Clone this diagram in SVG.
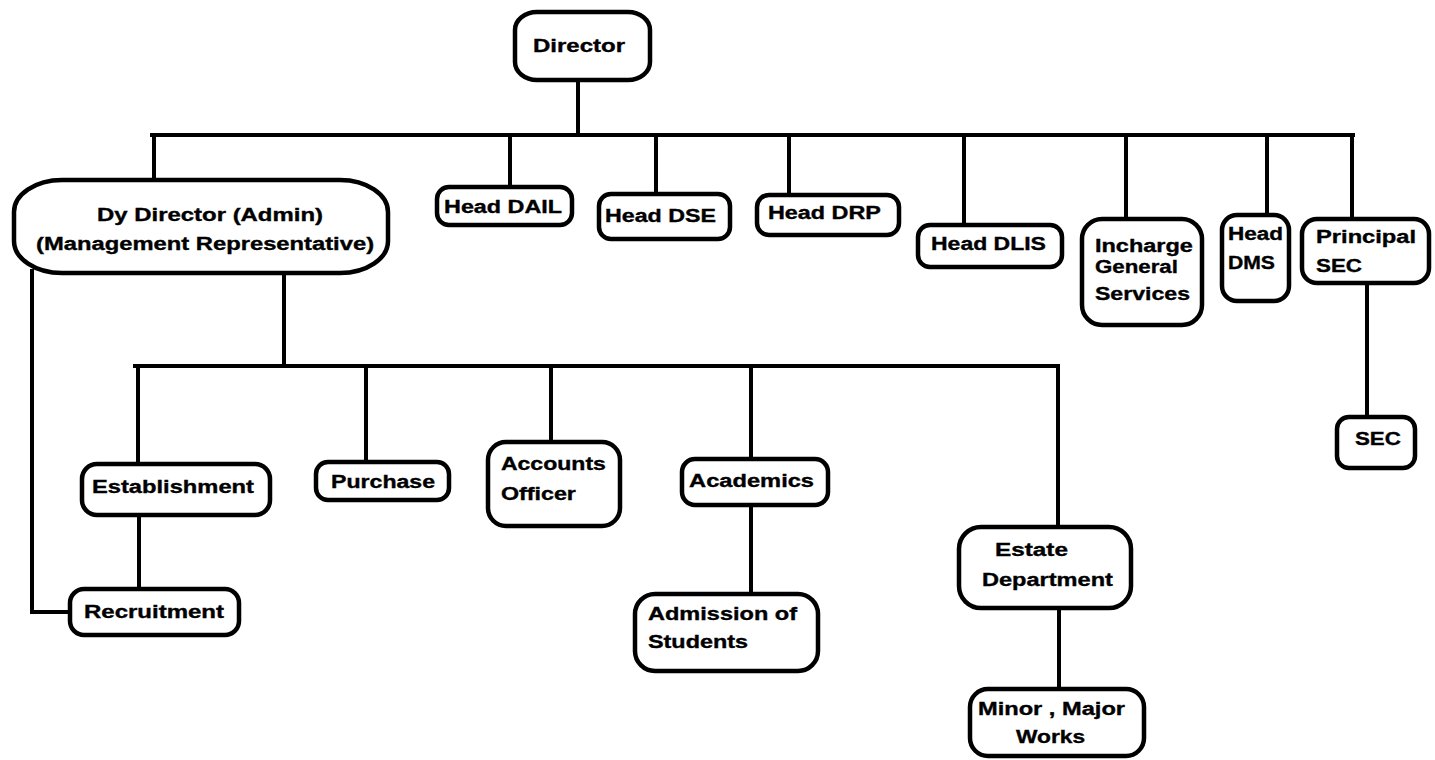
<svg xmlns="http://www.w3.org/2000/svg" width="1435" height="760" viewBox="0 0 1435 760">
<style>
.bx{fill:#fff;stroke:#000;stroke-width:4.5}
.ln{fill:none;stroke:#000;stroke-width:4;stroke-linecap:square}
text{font-family:"Liberation Sans",Arial,sans-serif;font-weight:bold;font-size:18px;fill:#000;stroke:#000;stroke-width:0.35}
</style>
<rect width="1435" height="760" fill="#fff"/>
<g id="connectors">
<path class="ln" d="M578 82V135M152 135H1353"/>
<path class="ln" d="M154 135V180M510 135V187M656 135V194M789 135V195M964 135V225M1126 135V219M1267 135V215M1352 135V219"/>
<path class="ln" d="M1367 283V417"/>
<path class="ln" d="M32 271V612H70"/>
<path class="ln" d="M284 273V366M135 366H1058"/>
<path class="ln" d="M138 366V464M366 366V462M551 366V442M751 366V459M1058 366V527"/>
<path class="ln" d="M139 515V589M751 505V594M1059 608V689"/>
</g>
<g id="director"><rect class="bx" x="515" y="12" width="135" height="68" rx="22" ry="18"/><text transform="scale(1.32 1)" x="403.8" y="52" font-size="19" textLength="69.7" lengthAdjust="spacingAndGlyphs">Director</text></g>
<g id="dy-director"><rect class="bx" x="14" y="180" width="374" height="93" rx="48" ry="32"/><text transform="scale(1.32 1)" x="73.5" y="221" textLength="171.2" lengthAdjust="spacingAndGlyphs">Dy Director (Admin)</text><text transform="scale(1.32 1)" x="27.3" y="250" textLength="256.1" lengthAdjust="spacingAndGlyphs">(Management Representative)</text></g>
<g id="head-dail"><rect class="bx" x="437" y="187" width="135" height="38" rx="12"/><text transform="scale(1.32 1)" x="336.4" y="213" textLength="89.4" lengthAdjust="spacingAndGlyphs">Head DAIL</text></g>
<g id="head-dse"><rect class="bx" x="599" y="194" width="131" height="45" rx="12"/><text transform="scale(1.32 1)" x="458.3" y="222" textLength="84.1" lengthAdjust="spacingAndGlyphs">Head DSE</text></g>
<g id="head-drp"><rect class="bx" x="757" y="195" width="142" height="40" rx="12"/><text transform="scale(1.32 1)" x="581.8" y="219" textLength="85.6" lengthAdjust="spacingAndGlyphs">Head DRP</text></g>
<g id="head-dlis"><rect class="bx" x="918" y="225" width="144" height="42" rx="12"/><text transform="scale(1.32 1)" x="705.3" y="250" textLength="87.1" lengthAdjust="spacingAndGlyphs">Head DLIS</text></g>
<g id="incharge"><rect class="bx" x="1082" y="219" width="120" height="106" rx="20"/><text transform="scale(1.32 1)" x="829.5" y="252" textLength="74.2" lengthAdjust="spacingAndGlyphs">Incharge</text><text transform="scale(1.32 1)" x="829.5" y="273" textLength="62.9" lengthAdjust="spacingAndGlyphs">General</text><text transform="scale(1.32 1)" x="829.5" y="300" textLength="72" lengthAdjust="spacingAndGlyphs">Services</text></g>
<g id="head-dms"><rect class="bx" x="1222" y="215" width="67" height="86" rx="15"/><text transform="scale(1.32 1)" x="930.3" y="240" textLength="41.7" lengthAdjust="spacingAndGlyphs">Head</text><text transform="scale(1.32 1)" x="930.3" y="269" textLength="35.6" lengthAdjust="spacingAndGlyphs">DMS</text></g>
<g id="principal"><rect class="bx" x="1302" y="219" width="127" height="64" rx="15"/><text transform="scale(1.32 1)" x="997" y="243" textLength="75.8" lengthAdjust="spacingAndGlyphs">Principal</text><text transform="scale(1.32 1)" x="997" y="272" textLength="34.8" lengthAdjust="spacingAndGlyphs">SEC</text></g>
<g id="sec"><rect class="bx" x="1337" y="417" width="78" height="51" rx="12"/><text transform="scale(1.32 1)" x="1026.5" y="445" textLength="34.8" lengthAdjust="spacingAndGlyphs">SEC</text></g>
<g id="establishment"><rect class="bx" x="82" y="464" width="188" height="51" rx="15"/><text transform="scale(1.32 1)" x="69.7" y="493" textLength="122.7" lengthAdjust="spacingAndGlyphs">Establishment</text></g>
<g id="recruitment"><rect class="bx" x="70" y="589" width="169" height="46" rx="14"/><text transform="scale(1.32 1)" x="63.6" y="618" textLength="106.1" lengthAdjust="spacingAndGlyphs">Recruitment</text></g>
<g id="purchase"><rect class="bx" x="316" y="462" width="133" height="38" rx="12"/><text transform="scale(1.32 1)" x="250.8" y="488" textLength="78.8" lengthAdjust="spacingAndGlyphs">Purchase</text></g>
<g id="accounts"><rect class="bx" x="488" y="442" width="132" height="84" rx="18"/><text transform="scale(1.32 1)" x="379.5" y="470" textLength="79.5" lengthAdjust="spacingAndGlyphs">Accounts</text><text transform="scale(1.32 1)" x="379.5" y="500" textLength="56.8" lengthAdjust="spacingAndGlyphs">Officer</text></g>
<g id="academics"><rect class="bx" x="682" y="459" width="146" height="46" rx="13"/><text transform="scale(1.32 1)" x="522" y="487" textLength="94.7" lengthAdjust="spacingAndGlyphs">Academics</text></g>
<g id="admission"><rect class="bx" x="635" y="594" width="183" height="77" rx="20"/><text transform="scale(1.32 1)" x="490.9" y="620" textLength="112.9" lengthAdjust="spacingAndGlyphs">Admission of</text><text transform="scale(1.32 1)" x="490.9" y="648" textLength="75.8" lengthAdjust="spacingAndGlyphs">Students</text></g>
<g id="estate"><rect class="bx" x="959" y="527" width="172" height="81" rx="22"/><text transform="scale(1.32 1)" x="753.8" y="556" textLength="55.3" lengthAdjust="spacingAndGlyphs">Estate</text><text transform="scale(1.32 1)" x="743.9" y="586" textLength="99.2" lengthAdjust="spacingAndGlyphs">Department</text></g>
<g id="works"><rect class="bx" x="970" y="689" width="174" height="67" rx="18"/><text transform="scale(1.32 1)" x="740.9" y="715" textLength="111.4" lengthAdjust="spacingAndGlyphs">Minor , Major</text><text transform="scale(1.32 1)" x="769.7" y="743" textLength="52.3" lengthAdjust="spacingAndGlyphs">Works</text></g>
</svg>
